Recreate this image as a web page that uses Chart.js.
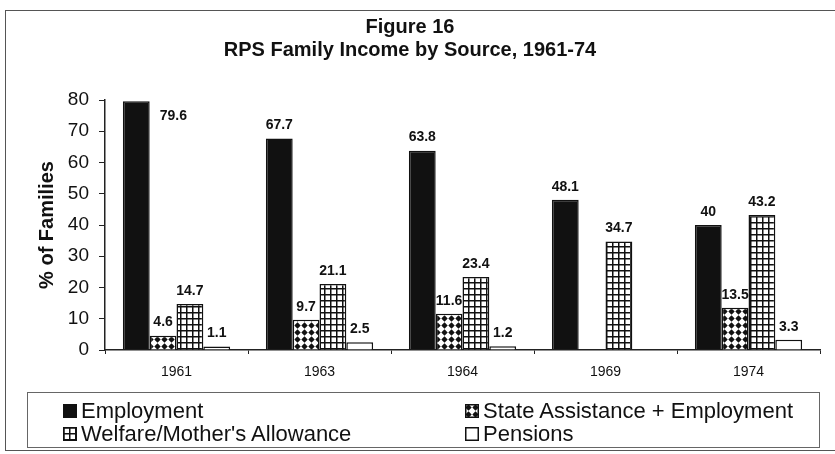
<!DOCTYPE html>
<html>
<head>
<meta charset="utf-8">
<script src="https://cdn.jsdelivr.net/npm/chart.js@4/dist/chart.umd.min.js"></script>
<style>
  body { margin: 0; background: #fff; font-family: Arial, "Liberation Sans", sans-serif; }
  #wrap { position: relative; width: 835px; height: 454px; }
  #frame { position: absolute; left: 5px; top: 10px; width: 830px; height: 441px; border: 1px solid #555; border-right: none; box-sizing: border-box; }
  #legend { position: absolute; left: 27px; top: 392px; width: 793px; height: 56px; border: 1px solid #666; box-sizing: border-box; color: #111; font-size: 22px; line-height: 22px; }
  .item { position: absolute; display: flex; align-items: center; white-space: nowrap; }
  .item canvas { margin-right: 4px; }
</style>
</head>
<body>
<div id="wrap">
  <div id="frame"></div>
  <canvas id="chart" width="835" height="454"></canvas>
  <div id="legend"></div>
</div>
<script>
const categories = ['1961', '1963', '1964', '1969', '1974'];
const employment = [79.6, 67.7, 63.8, 48.1, 40];
const stateAssistance = [4.6, 9.7, 11.6, null, 13.5];
const welfare = [14.7, 21.1, 23.4, 34.7, 43.2];
const pensions = [1.1, 2.5, 1.2, null, 3.3];
const yTicks = [0, 10, 20, 30, 40, 50, 60, 70, 80];
const seriesNames = ['Employment', 'State Assistance + Employment', "Welfare/Mother's Allowance", 'Pensions'];

const ctx = document.getElementById('chart').getContext('2d');

function dotPattern() {
  const c = document.createElement('canvas');
  c.width = 7; c.height = 7;
  const g = c.getContext('2d');
  g.fillStyle = '#fff';
  g.fillRect(0, 0, 7, 7);
  g.fillStyle = '#111';
  g.beginPath();
  g.moveTo(3.5, 0.3); g.lineTo(6.7, 3.5); g.lineTo(3.5, 6.7); g.lineTo(0.3, 3.5);
  g.closePath();
  g.fill();
  return ctx.createPattern(c, 'repeat');
}

function gridPattern() {
  const c = document.createElement('canvas');
  c.width = 6; c.height = 6;
  const g = c.getContext('2d');
  g.fillStyle = '#fff';
  g.fillRect(0, 0, 6, 6);
  g.fillStyle = '#111';
  g.fillRect(0, 0, 6, 1.5);
  g.fillRect(0, 0, 1.5, 6);
  return ctx.createPattern(c, 'repeat');
}

const fills = ['#111', dotPattern(), gridPattern(), '#fff'];
const values = [employment, stateAssistance, welfare, pensions];

// value labels over the bars
const valueLabels = {
  id: 'valueLabels',
  afterDatasetsDraw(chart) {
    const c = chart.ctx;
    c.save();
    c.font = 'bold 14px Arial';
    c.fillStyle = '#111';
    chart.data.datasets.forEach((ds, i) => {
      chart.getDatasetMeta(i).data.forEach((bar, j) => {
        const v = ds.data[j];
        if (v == null) return;
        if (bar.y - 22 < chart.chartArea.top) {
          c.textAlign = 'left';
          c.textBaseline = 'middle';
          c.fillText(String(v), bar.x + bar.width / 2 + 10, bar.y + 15);
        } else {
          c.textAlign = 'center';
          c.textBaseline = 'bottom';
          c.fillText(String(v), bar.x, bar.y - 6);
        }
      });
    });
    c.restore();
  }
};

new Chart(ctx, {
  type: 'bar',
  data: {
    labels: categories,
    datasets: values.map((d, i) => ({
      label: seriesNames[i],
      data: d,
      backgroundColor: fills[i],
      borderColor: '#111',
      borderWidth: 1.5,
      categoryPercentage: 0.75,
      barPercentage: 1
    }))
  },
  options: {
    responsive: false,
    animation: false,
    layout: { padding: { left: 0, right: 15, top: 0, bottom: 64 } },
    plugins: {
      legend: { display: false },
      tooltip: { enabled: false },
      title: {
        display: true,
        text: ['Figure 16', 'RPS Family Income by Source, 1961-74'],
        color: '#111',
        font: { family: 'Arial', size: 20, weight: 'bold', lineHeight: 1.15 },
        padding: { top: 15.5, bottom: 38.5 }
      }
    },
    scales: {
      x: {
        grid: { display: true, drawOnChartArea: false, offset: true, tickLength: 4, color: '#222' },
        border: { display: true, color: '#222', width: 1.5 },
        ticks: { color: '#111', font: { family: 'Arial', size: 14 }, padding: 10 },
        afterFit(scale) { scale.height = 40; }
      },
      y: {
        min: 0,
        max: 80,
        afterBuildTicks(scale) { scale.ticks = yTicks.map(v => ({ value: v })); },
        grid: { display: true, drawOnChartArea: false, tickLength: 6, color: '#222' },
        border: { display: true, color: '#222', width: 1.5 },
        ticks: { color: '#111', font: { family: 'Arial', size: 19 }, padding: 10 },
        title: {
          display: true,
          text: '% of Families',
          color: '#111',
          font: { family: 'Arial', size: 20, weight: 'bold' },
          padding: { top: 35, bottom: 0 }
        },
        afterFit(scale) { scale.width = 105; }
      }
    }
  },
  plugins: [valueLabels]
});

// legend in two columns
const legend = document.getElementById('legend');
const spots = [[35, 7], [437, 7], [35, 30], [437, 30]];
seriesNames.forEach((name, i) => {
  const item = document.createElement('div');
  item.className = 'item';
  item.style.left = spots[i][0] + 'px';
  item.style.top = spots[i][1] + 'px';
  const sw = document.createElement('canvas');
  sw.width = 14; sw.height = 14;
  const g = sw.getContext('2d');
  g.fillStyle = fills[i];
  g.fillRect(0, 0, 14, 14);
  g.strokeStyle = '#111';
  g.lineWidth = 1.5;
  g.strokeRect(0.75, 0.75, 12.5, 12.5);
  item.appendChild(sw);
  const t = document.createElement('span');
  t.textContent = name;
  item.appendChild(t);
  legend.appendChild(item);
});
</script>
</body>
</html>
